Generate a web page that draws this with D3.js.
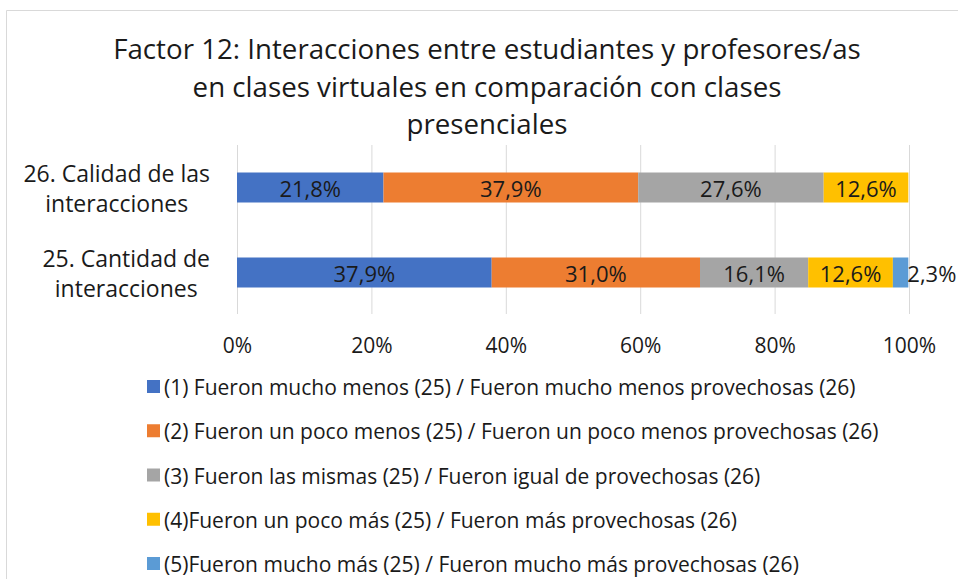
<!DOCTYPE html>
<html>
<head>
<meta charset="utf-8">
<script src="https://cdn.jsdelivr.net/npm/d3@7"></script>
<style>
  body { margin: 0; background: #fff; }
  text { font-family: "Open Sans", sans-serif; fill: #1a1a1a; }
</style>
</head>
<body>
<div id="chart-area"></div>
<script>
var titleLines = ["Factor 12: Interacciones entre estudiantes y profesores/as",
  "en clases virtuales en comparación con clases",
  "presenciales"];

var categories = ["26. Calidad de las interacciones", "25. Cantidad de interacciones"];
var categoryLines = [["26. Calidad de las", "interacciones"], ["25. Cantidad de", "interacciones"]];

var seriesNames = [
  "(1) Fueron mucho menos (25) / Fueron mucho menos provechosas (26)",
  "(2) Fueron un poco menos (25) / Fueron un poco menos provechosas (26)",
  "(3) Fueron las mismas (25) / Fueron igual de provechosas (26)",
  "(4)Fueron un poco más (25) / Fueron más provechosas (26)",
  "(5)Fueron mucho más (25) / Fueron mucho más provechosas (26)"
];
var seriesColors = ["#4472C4", "#ED7D31", "#A5A5A5", "#FFC000", "#5B9BD5"];

// values per category, one per series (percent)
var calidad = [21.8, 37.9, 27.6, 12.6, 0];
var cantidad = [37.9, 31.0, 16.1, 12.6, 2.3];

var tickValues = [0, 0.2, 0.4, 0.6, 0.8, 1];

var W = 958, H = 579;

var svg = d3.select("#chart-area").append("svg")
    .attr("width", W)
    .attr("height", H);

// chart border (cropped on right / bottom)
svg.append("path")
  .attr("d", "M6.5," + H + "V10.5H" + W)
  .attr("fill", "none")
  .attr("stroke", "#d9d9d9")
  .attr("stroke-width", 1);

// Title
svg.append("g").selectAll("text")
  .data(titleLines)
  .enter().append("text")
    .attr("x", 487)
    .attr("y", (d, i) => 59 + i * 37.5)
    .attr("text-anchor", "middle")
    .attr("font-size", "27.7px")
    .text(d => d);

var x = d3.scaleLinear().domain([0, 1]).range([237, 909]);
var y = d3.scaleBand().domain(categories).range([145, 315]);
var barH = 30;

var fmt = d3.formatLocale({decimal: ",", thousands: ".", grouping: [3], currency: ["", "€"]});
var pct = fmt.format(".1f");

// gridlines
var grid = svg.append("g")
  .attr("transform", "translate(0,314)")
  .call(d3.axisBottom(x).tickValues(tickValues).tickSize(-169).tickFormat(""));
grid.select(".domain").remove();
grid.selectAll("line").attr("stroke", "#d9d9d9");

// x axis labels
var xAxis = svg.append("g")
  .attr("transform", "translate(0,335)")
  .call(d3.axisBottom(x).tickValues(tickValues).tickSize(0).tickFormat(d3.format(".0%")));
xAxis.select(".domain").remove();
xAxis.selectAll("text")
  .attr("font-size", "21px")
  .attr("font-family", null)
  .attr("fill", "#1a1a1a");

// stacked data
var rows = [calidad, cantidad].map((vals, i) => {
  var acc = 0;
  return vals.map((v, j) => {
    var seg = {cat: categories[i], s: j, v: v, x0: acc, x1: acc + v};
    acc += v;
    return seg;
  });
});
var segs = rows.flat().filter(d => d.v > 0);

var bars = svg.append("g");
bars.selectAll("rect")
  .data(segs)
  .enter().append("rect")
    .attr("x", d => x(d.x0 / 100))
    .attr("width", d => x(d.x1 / 100) - x(d.x0 / 100))
    .attr("y", d => y(d.cat) + (y.bandwidth() - barH) / 2)
    .attr("height", barH)
    .attr("fill", d => seriesColors[d.s]);

// labels (small segments get the label just outside)
bars.selectAll("text")
  .data(segs)
  .enter().append("text")
    .attr("x", d => d.v < 5 ? x(d.x1 / 100) - 1 : x((d.x0 + d.x1) / 200))
    .attr("y", d => y(d.cat) + y.bandwidth() / 2 + 9.5)
    .attr("text-anchor", d => d.v < 5 ? "start" : "middle")
    .attr("font-size", "22px")
    .text(d => pct(d.v) + "%");

// category labels: block right-aligned at 210, lines centred in it
var cat = svg.append("g").selectAll("text")
  .data(categories)
  .enter().append("text")
    .attr("y", d => y(d) + y.bandwidth() / 2 - 5.5)
    .attr("text-anchor", "middle")
    .attr("font-size", "23px");
cat.selectAll("tspan")
  .data((d, i) => categoryLines[i])
  .enter().append("tspan")
    .attr("dy", (d, i) => i === 0 ? 0 : 30)
    .text(d => d);
cat.each(function() {
  var spans = d3.select(this).selectAll("tspan");
  var maxW = d3.max(spans.nodes(), n => n.getComputedTextLength());
  spans.attr("x", 210 - maxW / 2);
});

// legend
var legend = svg.append("g").selectAll("g")
  .data(seriesNames)
  .enter().append("g")
    .attr("transform", (d, i) => "translate(147," + (386.5 + i * 44.25) + ")");
legend.append("rect")
  .attr("x", 0).attr("y", -6.5)
  .attr("width", 13).attr("height", 13)
  .attr("fill", (d, i) => seriesColors[i]);
legend.append("text")
  .attr("x", 17).attr("y", 8.5)
  .attr("font-size", "21px")
  .text(d => d);
</script>
</body>
</html>
